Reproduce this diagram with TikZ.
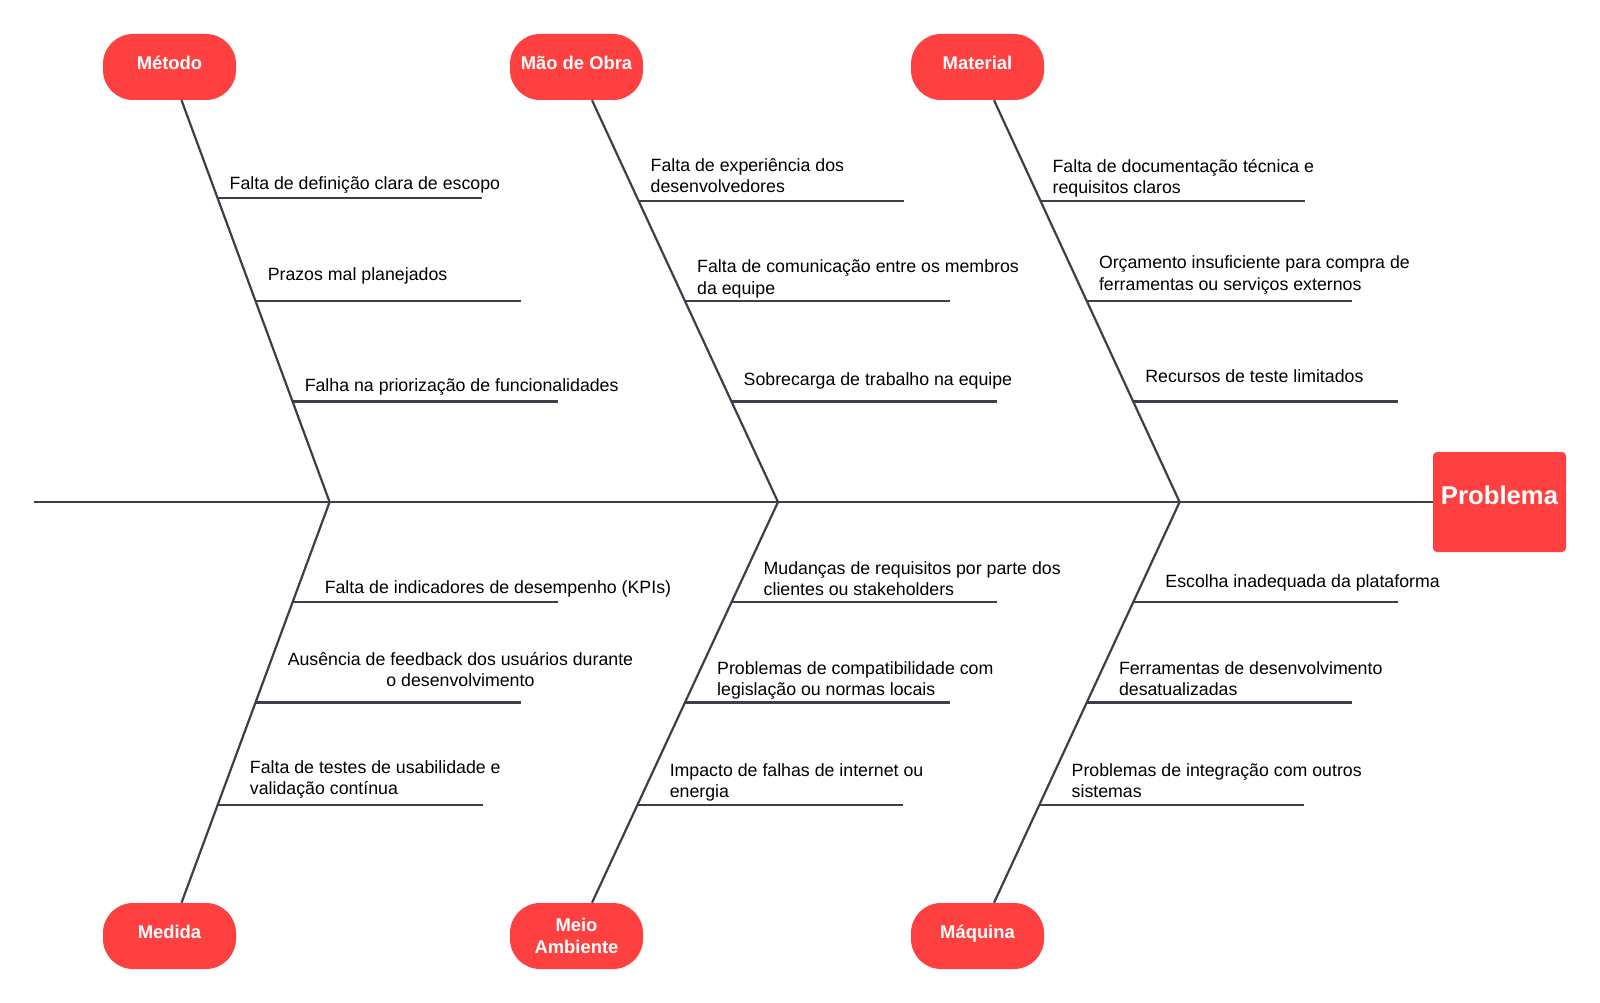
\documentclass[tikz,border=0pt]{standalone}
\usepackage{fontspec}
\setmainfont{Liberation Sans}
\usetikzlibrary{calc,
                positioning
                }
\definecolor{bonered}{RGB}{255,64,64}
\definecolor{boneline}{RGB}{58,63,74}

\begin{document}
\begin{tikzpicture}[x=1pt, y=-1pt,
     bone/.style = {draw=boneline, line width=2.2pt},
      cat/.style = {fill=bonered, rounded corners=30pt, inner sep=0pt,
                    minimum width=133pt, minimum height=66pt,
                    text=white, align=center, font=\bfseries\fontsize{18.4}{22}\selectfont},
   catone/.style = {cat, text height=0.75em, text depth=0.3em},
     prob/.style = {fill=bonered, rounded corners=4pt, inner sep=0pt,
                    minimum width=133pt, minimum height=100pt,
                    text height=0.75em, text depth=0.3em,
                    text=white, font=\bfseries\fontsize{25.7}{30}\selectfont},
    cause/.style = {inner sep=0pt, align=left, font=\fontsize{17.75}{21.4}\selectfont}
      ]
    \useasboundingbox (0,0) rectangle (1600,1003);
    % head and categories
    \node (prob)     [prob] at (1499.5,502) {Problema};
    \node (metodo)   [catone] at (169.5,67)  {Método};
    \node (maoobra)  [catone] at (576.5,67)  {Mão de Obra};
    \node (material) [catone] at (977.5,67)  {Material};
    \node (medida)   [catone] at (169.5,936) {Medida};
    \node (meio)     [cat]    at (576.5,936) {Meio\\Ambiente};
    \node (maquina)  [catone] at (977.5,936) {Máquina};
    % spine
    \coordinate (tail) at (34,502);
    \coordinate (j1) at (329.6,502);
    \coordinate (j2) at (778,502);
    \coordinate (j3) at (1179.6,502);
    \draw[bone] (tail) -- (prob.west);
    % bones
    \coordinate (t1) at ([xshift=12pt]metodo.south);
    \coordinate (t2) at ([xshift=15.5pt]maoobra.south);
    \coordinate (t3) at ([xshift=16.5pt]material.south);
    \coordinate (b1) at ([xshift=12pt]medida.north);
    \coordinate (b2) at ([xshift=15.5pt]meio.north);
    \coordinate (b3) at ([xshift=16.5pt]maquina.north);
    \draw[bone] (t1) -- (j1) -- (b1);
    \draw[bone] (t2) -- (j2) -- (b2);
    \draw[bone] (t3) -- (j3) -- (b3);
    % ribs
    \foreach \b/\f in {1/0.243, 2/0.25, 3/0.25}{
        \coordinate (u\b1) at ($(t\b)!\f!(j\b)$);
        \coordinate (u\b2) at ($(t\b)!0.5!(j\b)$);
        \coordinate (u\b3) at ($(t\b)!0.75!(j\b)$);
        \coordinate (d\b1) at ($(j\b)!0.25!(b\b)$);
        \coordinate (d\b2) at ($(j\b)!0.5!(b\b)$);
        \coordinate (d\b3) at ($(j\b)!0.755!(b\b)$);
        \foreach \r in {1,2,3}{
            \draw[bone] (u\b\r) -- ++(265,0);
            \draw[bone] (d\b\r) -- ++(265,0);
        }
    }
    % causes - Método
    \node[cause, above right=1.8pt and 12pt of u11]  {Falta de definição clara de escopo\strut};
    \node[cause, above right=13.5pt and 12pt of u12] {Prazos mal planejados\strut};
    \node[cause, above right=3.3pt and 12pt of u13]  {Falha na priorização de funcionalidades\strut};
    % causes - Mão de Obra
    \node[cause, above right=1.3pt and 12pt of u21]  {Falta de experiência dos\\desenvolvedores\strut};
    \node[cause, above right=0.3pt and 12pt of u22]  {Falta de comunicação entre os membros\\da equipe\strut};
    \node[cause, above right=9.4pt and 12pt of u23]  {Sobrecarga de trabalho na equipe\strut};
    % causes - Material
    \node[cause, above right=0.3pt and 12pt of u31]  {Falta de documentação técnica e\\requisitos claros\strut};
    \node[cause, above right=4.3pt and 12pt of u32]  {Orçamento insuficiente para compra de\\ferramentas ou serviços externos\strut};
    \node[cause, above right=12.5pt and 12pt of u33] {Recursos de teste limitados\strut};
    % causes - Medida
    \node[cause, above right=2.3pt and 32pt of d11]  {Falta de indicadores de desempenho (KPIs)\strut};
    \node[cause, align=center, above right=9pt and 32pt of d12] {Ausência de feedback dos usuários durante\\o desenvolvimento\strut};
    \node[cause, above right=3.3pt and 32pt of d13]  {Falta de testes de usabilidade e\\validação contínua\strut};
    % causes - Meio Ambiente
    \node[cause, above right=0pt and 32pt of d21]    {Mudanças de requisitos por parte dos\\clientes ou stakeholders\strut};
    \node[cause, above right=0pt and 32pt of d22]    {Problemas de compatibilidade com\\legislação ou normas locais\strut};
    \node[cause, above right=0.3pt and 32pt of d23]  {Impacto de falhas de internet ou\\energia\strut};
    % causes - Máquina
    \node[cause, above right=8.4pt and 32pt of d31]  {Escolha inadequada da plataforma\strut};
    \node[cause, above right=0.3pt and 32pt of d32]  {Ferramentas de desenvolvimento\\desatualizadas\strut};
    \node[cause, above right=0.3pt and 32pt of d33]  {Problemas de integração com outros\\sistemas\strut};
\end{tikzpicture}
\end{document}
